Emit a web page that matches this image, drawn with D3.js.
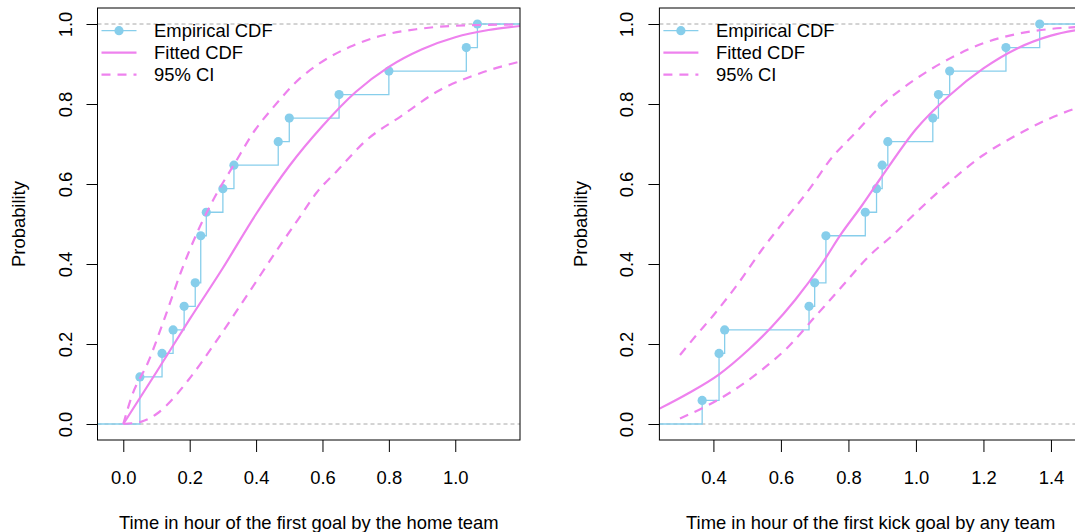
<!DOCTYPE html>
<html>
<head>
<meta charset="utf-8">
<script src="https://cdn.jsdelivr.net/npm/d3@7"></script>
<style>
  body { margin: 0; background: #fff; }
  svg { display: block; font-family: "Liberation Sans", Arial, Helvetica, sans-serif; }
</style>
</head>
<body>
<svg id="chart" width="1075" height="532"></svg>
<script>
// observed times (hours) of the first goal, 17 matches each
var homeGoalHours = [0.05, 0.05, 0.1167, 0.15, 0.1833, 0.2167, 0.2333, 0.2333, 0.25,
    0.3, 0.3333, 0.4667, 0.5, 0.65, 0.8, 1.0333, 1.0667];
var kickGoalHours = [0.3667, 0.4167, 0.4167, 0.4333, 0.6833, 0.7, 0.7333, 0.7333, 0.85,
    0.8833, 0.9, 0.9167, 1.05, 1.0667, 1.1, 1.2667, 1.3667];

// fitted cdf and 95% band as [hours, probability]
var homeFitted = [[0, 0], [0.1, 0.13], [0.2, 0.262], [0.3, 0.39], [0.4, 0.525], [0.5, 0.645],
    [0.6, 0.745], [0.7, 0.83], [0.8, 0.893], [0.9, 0.937], [1.0, 0.967], [1.1, 0.985], [1.195, 0.995]];
var homeUpper = [[0, 0], [0.025, 0.068], [0.075, 0.155], [0.126, 0.268], [0.176, 0.385],
    [0.226, 0.485], [0.276, 0.568], [0.336, 0.652], [0.397, 0.735], [0.45, 0.79], [0.532, 0.864],
    [0.592, 0.902], [0.683, 0.943], [0.783, 0.972], [0.884, 0.987], [0.984, 0.995], [1.195, 0.999]];
var homeLower = [[0, 0], [0.055, 0.006], [0.1, 0.025], [0.126, 0.043], [0.196, 0.11],
    [0.276, 0.202], [0.377, 0.327], [0.477, 0.452], [0.532, 0.518], [0.582, 0.578],
    [0.643, 0.632], [0.733, 0.71], [0.834, 0.768], [0.954, 0.835], [1.075, 0.877], [1.195, 0.906]];

var kickFitted = [[0.237, 0.037], [0.326, 0.077], [0.415, 0.123], [0.503, 0.185], [0.573, 0.243],
    [0.642, 0.31], [0.721, 0.40], [0.78, 0.477], [0.839, 0.545], [0.9, 0.62], [1.0, 0.737],
    [1.1, 0.822], [1.2, 0.889], [1.3, 0.939], [1.4, 0.971], [1.5, 0.988]];
var kickUpper = [[0.301, 0.1725], [0.3455, 0.218], [0.405, 0.277], [0.474, 0.352], [0.543, 0.435],
    [0.612, 0.51], [0.686, 0.589], [0.75, 0.665], [0.8145, 0.7225], [0.903, 0.80], [1.002, 0.864],
    [1.101, 0.914], [1.2, 0.952], [1.299, 0.975], [1.397, 0.9875], [1.5, 0.993]];
var kickLower = [[0.301, 0.014], [0.375, 0.043], [0.454, 0.081], [0.543, 0.135], [0.622, 0.193],
    [0.701, 0.268], [0.78, 0.343], [0.859, 0.418], [0.935, 0.475], [1.002, 0.53], [1.101, 0.606],
    [1.2, 0.6725], [1.299, 0.7225], [1.397, 0.764], [1.5, 0.797]];

var homeTicks = [0, 0.2, 0.4, 0.6, 0.8, 1.0];
var kickTicks = [0.4, 0.6, 0.8, 1.0, 1.2, 1.4];
var probTicks = [0, 0.2, 0.4, 0.6, 0.8, 1.0];
var legendLabels = ["Empirical CDF", "Fitted CDF", "95% CI"];

var ecdfColor = "#87CEEB", fitColor = "#EE82EE", refColor = "#A8A8A8";
var fontSize = "18.4px";
var fmt = d3.format(".1f");

var svg = d3.select("#chart");
svg.append("rect").attr("width", 1075).attr("height", 532).attr("fill", "#fff");

function panel(id, left, right, xDomain, ticks, obs, fitted, upper, lower, xTitle) {
    var top = 8, bottom = 440;
    var x = d3.scaleLinear().domain(xDomain).range([left, right]);
    var y = d3.scaleLinear().domain([-0.04, 1.04]).range([bottom, top]);

    var g = svg.append("g");

    g.append("clipPath").attr("id", id)
      .append("rect").attr("x", left).attr("y", top)
        .attr("width", right - left).attr("height", bottom - top);

    var plot = g.append("g").attr("clip-path", "url(#" + id + ")");

    // reference lines at 0 and 1
    plot.selectAll("line.ref")
        .data([0, 1])
        .enter().append("line")
        .attr("class", "ref")
        .attr("x1", left).attr("x2", right)
        .attr("y1", function(d) { return y(d); })
        .attr("y2", function(d) { return y(d); })
        .attr("stroke", refColor)
        .attr("stroke-width", 1)
        .attr("stroke-dasharray", "4,3");

    // empirical cdf
    var n = obs.length;
    var steps = [];
    var vals = Array.from(new Set(obs)).sort(d3.ascending);
    vals.forEach(function(v) {
        steps.push({x: v, p: obs.filter(function(o) { return o <= v; }).length / n});
    });

    var path = "M" + left + "," + y(0);
    steps.forEach(function(s) {
        path += "H" + x(s.x) + "V" + y(s.p);
    });
    path += "H" + right;

    plot.append("path")
        .attr("d", path)
        .attr("fill", "none")
        .attr("stroke", ecdfColor)
        .attr("stroke-width", 1.3);

    plot.selectAll("circle.pt")
        .data(steps)
        .enter().append("circle")
        .attr("class", "pt")
        .attr("cx", function(s) { return x(s.x); })
        .attr("cy", function(s) { return y(s.p); })
        .attr("r", 4.6)
        .attr("fill", ecdfColor);

    var line = d3.line()
        .x(function(p) { return x(p[0]); })
        .y(function(p) { return y(p[1]); })
        .curve(d3.curveMonotoneX);

    plot.append("path")
        .attr("d", line(fitted))
        .attr("fill", "none")
        .attr("stroke", fitColor)
        .attr("stroke-width", 2.2);

    [upper, lower].forEach(function(band) {
        plot.append("path")
            .attr("d", line(band))
            .attr("fill", "none")
            .attr("stroke", fitColor)
            .attr("stroke-width", 2.2)
            .attr("stroke-dasharray", "9,7");
    });

    // box
    g.append("rect")
        .attr("x", left).attr("y", top)
        .attr("width", right - left).attr("height", bottom - top)
        .attr("fill", "none")
        .attr("stroke", "#000")
        .attr("stroke-width", 1);

    // axes
    var xa = g.append("g")
        .attr("transform", "translate(0," + bottom + ")")
        .call(d3.axisBottom(x).tickValues(ticks).tickSize(12).tickFormat(fmt));
    xa.select(".domain").remove();
    xa.selectAll("line").attr("stroke", "#000");
    xa.selectAll("text")
        .attr("y", 43.5).attr("dy", null)
        .attr("fill", "#000")
        .style("font-size", fontSize)
        .style("font-family", "'Liberation Sans', Arial, sans-serif");

    var ya = g.append("g")
        .attr("transform", "translate(" + left + ",0)")
        .call(d3.axisLeft(y).tickValues(probTicks).tickSize(11).tickFormat(fmt));
    ya.select(".domain").remove();
    ya.selectAll("line").attr("stroke", "#000");
    ya.selectAll("text")
        .attr("transform", "rotate(-90)")
        .attr("x", 0).attr("y", -26).attr("dy", null)
        .attr("text-anchor", "middle")
        .attr("fill", "#000")
        .style("font-size", fontSize)
        .style("font-family", "'Liberation Sans', Arial, sans-serif");

    g.append("text")
        .attr("x", (left + right) / 2)
        .attr("y", 529)
        .attr("text-anchor", "middle")
        .style("font-size", fontSize)
        .text(xTitle);

    g.append("text")
        .attr("transform", "translate(" + (left - 72.5) + "," + ((top + bottom) / 2) + ") rotate(-90)")
        .attr("text-anchor", "middle")
        .style("font-size", fontSize)
        .text("Probability");

    // legend
    var leg = g.append("g").attr("transform", "translate(" + left + ",0)");
    var rows = leg.selectAll("g")
        .data(legendLabels)
        .enter().append("g")
        .attr("transform", function(t, i) { return "translate(0," + (30.7 + i * 22) + ")"; });

    rows.append("line")
        .attr("x1", 4).attr("x2", 39)
        .attr("stroke", function(t, i) { return i == 0 ? ecdfColor : fitColor; })
        .attr("stroke-width", function(t, i) { return i == 0 ? 1.3 : 2.2; })
        .attr("stroke-dasharray", function(t, i) { return i == 2 ? "9,7" : null; });

    rows.filter(function(t, i) { return i == 0; })
        .append("circle")
        .attr("cx", 21.5).attr("r", 4.6)
        .attr("fill", ecdfColor);

    rows.append("text")
        .attr("x", 56.6)
        .attr("y", 6.3)
        .style("font-size", fontSize)
        .text(function(t) { return t; });
}

panel("clipHome", 97.5, 520, [-0.0777, 1.195], homeTicks,
      homeGoalHours, homeFitted, homeUpper, homeLower,
      "Time in hour of the first goal by the home team");
panel("clipKick", 659.4, 1082, [0.24, 1.492], kickTicks,
      kickGoalHours, kickFitted, kickUpper, kickLower,
      "Time in hour of the first kick goal by any team");
</script>
</body>
</html>
